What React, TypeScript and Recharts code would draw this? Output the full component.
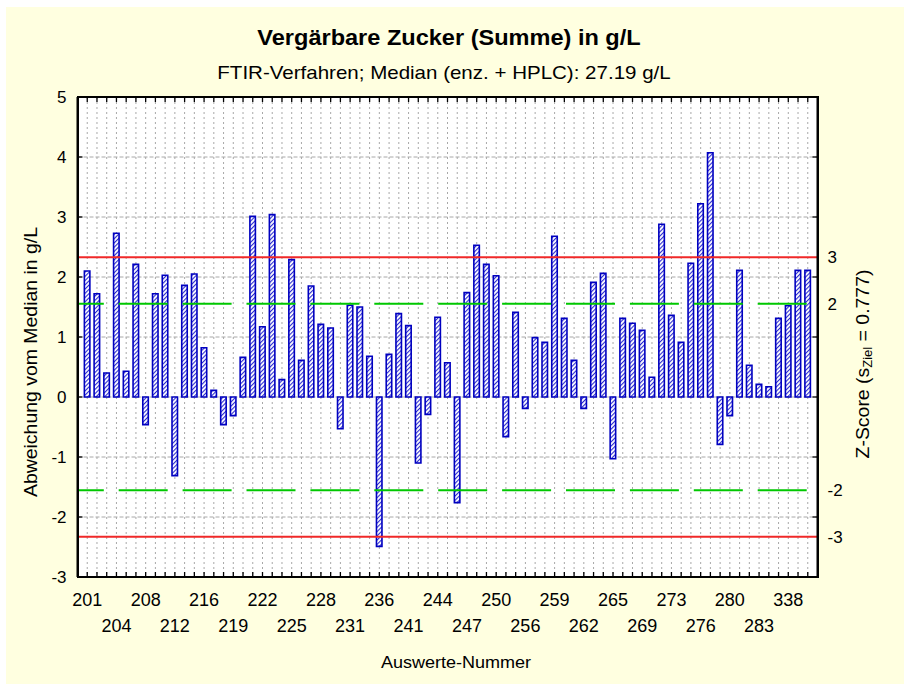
import React from "react";
import {
  ComposedChart,
  Bar,
  XAxis,
  YAxis,
  CartesianGrid,
  ReferenceLine,
} from "recharts";

// ---- data ----
const sampleIds = [
  201, 202, 203, 204, 205, 207, 208, 210, 211, 212, 213, 214, 216, 217, 218,
  219, 220, 221, 222, 223, 224, 225, 226, 227, 228, 229, 230, 231, 233, 234,
  236, 237, 239, 241, 242, 243, 244, 245, 246, 247, 248, 249, 250, 252, 254,
  256, 257, 258, 259, 260, 261, 262, 263, 264, 265, 266, 268, 269, 270, 271,
  273, 274, 275, 276, 277, 278, 280, 281, 282, 283, 284, 285, 338, 339, 340,
];
const deviations = [
  2.1, 1.72, 0.4, 2.73, 0.43, 2.21, -0.46, 1.72, 2.03, -1.31, 1.86, 2.05, 0.82,
  0.11, -0.46, -0.31, 0.66, 3.01, 1.17, 3.04, 0.29, 2.29, 0.61, 1.85, 1.21,
  1.15, -0.53, 1.53, 1.5, 0.68, -2.49, 0.71, 1.39, 1.19, -1.1, -0.29, 1.33,
  0.57, -1.76, 1.74, 2.53, 2.21, 2.02, -0.66, 1.41, -0.19, 0.99, 0.91, 2.68,
  1.31, 0.61, -0.19, 1.91, 2.06, -1.03, 1.31, 1.23, 1.11, 0.33, 2.88, 1.36,
  0.91, 2.23, 3.22, 4.07, -0.79, -0.31, 2.11, 0.53, 0.21, 0.17, 1.31, 1.52,
  2.11, 2.11,
];
const yTicks = [-3, -2, -1, 0, 1, 2, 3, 4, 5];
const yDomain = [-3, 5];
const sZiel = 0.777;
const zTicks = [-3, -2, 2, 3];
const zWarn = [-2, 2];
const zAction = [-3, 3];

const title = "Vergärbare Zucker (Summe) in g/L";
const subtitle = "FTIR-Verfahren; Median (enz. + HPLC): 27.19 g/L";
const yTitle = "Abweichung vom Median in g/L";
const xTitle = "Auswerte-Nummer";

const data = sampleIds.map((id, i) => ({ id: String(id), dev: deviations[i] }));

// ---- layout / style ----
const W = 904;
const H = 684;
const PL = 77.5;
const PR = 817.5;
const PT = 97;
const PB = 577;
const FONT = "'Liberation Sans', Arial, Helvetica, sans-serif";
const BG = "#ffffe0";

const BottomTick = (props: any) => {
  const { x, payload } = props;
  const idx = sampleIds.indexOf(Number(payload.value));
  const showLabel = idx % 3 === 0;
  const row = Math.floor(idx / 3) % 2;
  return (
    <g>
      <line x1={x} x2={x} y1={PB} y2={PB - 5} stroke="#000" strokeWidth={1.3} />
      {showLabel && (
        <text
          x={x}
          y={row === 0 ? PB + 29 : PB + 55}
          textAnchor="middle"
          fontSize={18}
          fontFamily={FONT}
          fill="#000"
        >
          {payload.value}
        </text>
      )}
    </g>
  );
};

const TopTick = (props: any) => {
  const { x } = props;
  return <line x1={x} x2={x} y1={PT} y2={PT + 5} stroke="#000" strokeWidth={1.3} />;
};

const LeftTick = (props: any) => {
  const { y, payload } = props;
  return (
    <g>
      <line x1={PL} x2={PL + 5} y1={y} y2={y} stroke="#000" strokeWidth={1.3} />
      <line x1={PR} x2={PR - 5} y1={y} y2={y} stroke="#000" strokeWidth={1.3} />
      <text
        x={PL - 11}
        y={y + 6}
        textAnchor="end"
        fontSize={17}
        fontFamily={FONT}
        fill="#000"
      >
        {payload.value}
      </text>
    </g>
  );
};

const RightTick = (props: any) => {
  const { y, payload } = props;
  return (
    <text
      x={PR + 10}
      y={y + 6}
      textAnchor="start"
      fontSize={17}
      fontFamily={FONT}
      fill="#000"
    >
      {payload.value}
    </text>
  );
};

const textBox = (
  left: number,
  top: number,
  extra: string,
  style: React.CSSProperties
): React.CSSProperties => ({
  position: "absolute",
  left,
  top,
  transform: "translate(-50%,-50%) " + extra,
  whiteSpace: "nowrap",
  lineHeight: 1,
  ...style,
});

export default function App() {
  return (
    <div
      style={{
        position: "absolute",
        left: 0,
        top: 0,
        width: W,
        height: H,
        background: "#fff",
        fontFamily: FONT,
        color: "#000",
      }}
    >
      <svg width={0} height={0} style={{ position: "absolute" }}>
        <defs>
          <pattern
            id="hatch"
            patternUnits="userSpaceOnUse"
            width={3}
            height={3}
            patternTransform="rotate(45)"
          >
            <rect width={3} height={3} fill="#ffffff" />
            <rect width={1.1} height={3} fill="#2a2ad0" />
          </pattern>
        </defs>
      </svg>
      <div
        style={{
          position: "absolute",
          left: 6,
          top: 7,
          width: W - 6,
          height: H - 7,
          background: BG,
        }}
      />
      <div
        style={{
          position: "absolute",
          left: PL,
          top: PT,
          width: PR - PL,
          height: PB - PT,
          background: "#fff",
        }}
      />
      <div style={{ position: "absolute", left: 0, top: 0 }}>
        <ComposedChart
          width={W}
          height={H}
          data={data}
          margin={{ top: PT - 1, bottom: H - PB - 1, left: PL - 1, right: W - PR - 1 }}
          barCategoryGap={0}
        >
          <CartesianGrid
            horizontal={false}
            vertical={true}
            stroke="#a8a8a8"
            strokeDasharray="2 3"
            fill="none"
          />
          <CartesianGrid
            horizontal={true}
            vertical={false}
            stroke="#a8a8a8"
            strokeDasharray="4 2"
            fill="none"
          />
          <XAxis
            dataKey="id"
            type="category"
            interval={0}
            height={1}
            tickSize={0}
            tickMargin={0}
            padding={{ left: 4.87, right: 4.87 }}
            axisLine={{ stroke: "#000", strokeWidth: 2 }}
            tickLine={false}
            tick={<BottomTick />}
          />
          <XAxis
            xAxisId="top"
            dataKey="id"
            type="category"
            orientation="top"
            interval={0}
            height={1}
            tickSize={0}
            tickMargin={0}
            padding={{ left: 4.87, right: 4.87 }}
            axisLine={{ stroke: "#000", strokeWidth: 2 }}
            tickLine={false}
            tick={<TopTick />}
          />
          <YAxis
            type="number"
            domain={yDomain}
            ticks={yTicks}
            width={1}
            tickSize={0}
            tickMargin={0}
            interval={0}
            axisLine={{ stroke: "#000", strokeWidth: 2 }}
            tickLine={false}
            tick={<LeftTick />}
          />
          <YAxis
            yAxisId="z"
            orientation="right"
            type="number"
            domain={[yDomain[0] / sZiel, yDomain[1] / sZiel]}
            ticks={zTicks}
            width={1}
            tickSize={0}
            tickMargin={0}
            interval={0}
            allowDataOverflow
            axisLine={{ stroke: "#000", strokeWidth: 2 }}
            tickLine={false}
            tick={<RightTick />}
          />
          <Bar
            dataKey="dev"
            barSize={5.5}
            fill="url(#hatch)"
            stroke="#0000c0"
            strokeWidth={1.6}
            isAnimationActive={false}
          />
          {zWarn.map((z) => (
            <ReferenceLine
              key={"w" + z}
              yAxisId="z"
              y={z}
              stroke="#00c800"
              strokeWidth={2}
              strokeDasharray="49 14.9"
              strokeDashoffset={53.1}
            />
          ))}
          {zAction.map((z) => (
            <ReferenceLine
              key={"a" + z}
              yAxisId="z"
              y={z}
              stroke="#f02828"
              strokeWidth={2}
            />
          ))}
        </ComposedChart>
      </div>
      <div
        style={{
          position: "absolute",
          left: PL - 1,
          top: PT - 1,
          width: PR - PL + 2,
          height: PB - PT + 2,
          border: "2px solid #000",
          boxSizing: "border-box",
          pointerEvents: "none",
        }}
      />
      <div style={textBox(449, 38, "scaleX(1.07)", { fontWeight: "bold", fontSize: 22 })}>
        {title}
      </div>
      <div style={textBox(444, 72, "scaleX(1.08)", { fontSize: 19 })}>{subtitle}</div>
      <div style={textBox(456, 662, "scaleX(1.06)", { fontSize: 17 })}>{xTitle}</div>
      <div style={textBox(31, 362, "rotate(-90deg) scaleX(1.08)", { fontSize: 18 })}>
        {yTitle}
      </div>
      <div style={textBox(864, 364, "rotate(-90deg) scaleX(1.08)", { fontSize: 18 })}>
        Z-Score (s
        <sub style={{ fontSize: 12, verticalAlign: "-0.3em" }}>Ziel</sub> = 0.777)
      </div>
    </div>
  );
}
